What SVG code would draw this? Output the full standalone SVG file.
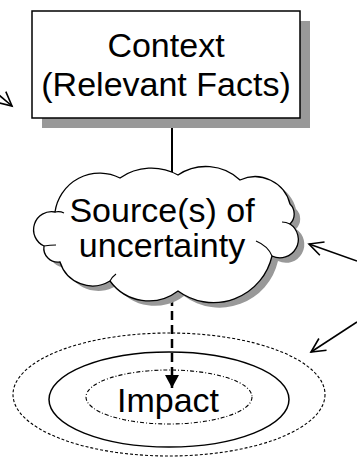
<svg xmlns="http://www.w3.org/2000/svg" width="357" height="466" viewBox="0 0 357 466">
<style>
text{font-family:"Liberation Sans",Arial,sans-serif;font-size:34px;fill:#000;text-anchor:middle}
.shadow{fill:#999;stroke:none}
.edge{stroke:#000;fill:none}
</style>
<defs>
<marker id="open" markerUnits="userSpaceOnUse" markerWidth="20" markerHeight="20" refX="15" refY="8" orient="auto" overflow="visible">
<path d="M1,1 L15,8 L1,15" fill="none" stroke="#000" stroke-width="1.6"/>
</marker>
<marker id="solid" markerUnits="userSpaceOnUse" markerWidth="16" markerHeight="16" refX="13" refY="7" orient="auto" overflow="visible">
<path d="M0,0 L13,7 L0,14 Z" fill="#000"/>
</marker>
<path id="cloudShape" d="M55,212 A45,45 0 0 1 120,178 A55,55 0 0 1 178,175 A50,50 0 0 1 240,180 A36,36 0 0 1 290,204 A14,14 0 0 1 290,224 A18.4,18.4 0 0 1 272,256 A60,60 0 0 1 178,291 A48,48 0 0 1 110,281 A34,34 0 0 1 60,262 A14,14 0 0 1 44,246 A18,18 0 0 1 55,212 Z"/>
</defs>
<g id="connectors">
<line class="edge" x1="172" y1="119" x2="172" y2="174" stroke-width="2"/>
<line class="edge" x1="172" y1="297" x2="172" y2="388" stroke-width="2.5" stroke-dasharray="9,5" marker-end="url(#solid)"/>
<line class="edge" x1="-14" y1="84" x2="12" y2="106" stroke-width="1.6" marker-end="url(#open)"/>
<line class="edge" x1="357" y1="261" x2="309" y2="244" stroke-width="1.6" marker-end="url(#open)"/>
<line class="edge" x1="357" y1="322" x2="311" y2="352" stroke-width="1.6" marker-end="url(#open)"/>
</g>
<g id="context">
<rect class="shadow" x="42" y="21" width="268" height="107"/>
<rect x="32" y="11" width="268" height="107" fill="#fff" stroke="#000" stroke-width="1.5"/>
<text x="166" y="57">Context</text>
<text x="166" y="96">(Relevant Facts)</text>
</g>
<g id="source">
<use href="#cloudShape" class="shadow" transform="translate(6,5)"/>
<use href="#cloudShape" fill="#fff" stroke="#000" stroke-width="1.3"/>
<path d="M55,212 q5,-1 9,1 M44,246 q6,-1 12,-1 M290,224 q-4,-2 -8,-2 M272,256 q-4,-10 -16,-15 M110,281 q2,-4 6,-7" fill="none" stroke="#000" stroke-width="1.1"/>
<text x="162" y="222">Source(s) of</text>
<text x="162" y="257">uncertainty</text>
</g>
<g id="impact">
<ellipse cx="169" cy="394.5" rx="156" ry="61.5" fill="none" stroke="#000" stroke-width="1.1" stroke-dasharray="3,2"/>
<ellipse cx="169" cy="399.5" rx="120" ry="47.5" fill="none" stroke="#000" stroke-width="1.5"/>
<ellipse cx="169" cy="397" rx="83" ry="27" fill="none" stroke="#000" stroke-width="1.1" stroke-dasharray="4,2,1,2"/>
<text x="168" y="412">Impact</text>
</g>
</svg>
